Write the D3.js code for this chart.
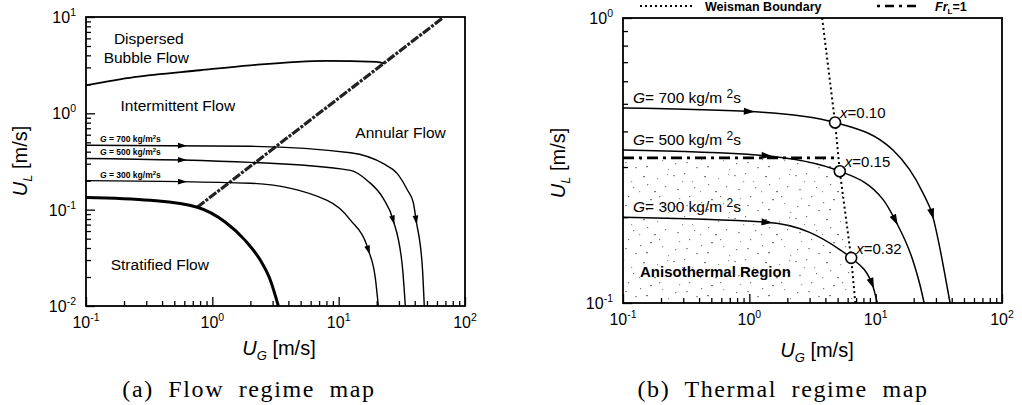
<!DOCTYPE html>
<html><head><meta charset="utf-8">
<script src="https://cdn.jsdelivr.net/npm/d3@7"></script>
<style>
body{margin:0;background:#fff;}
svg text{font-family:Arial,"Liberation Sans",sans-serif;fill:#000;}
</style></head>
<body><svg id="c" width="1022" height="405"></svg>
<script>
// ---------------- data ----------------
const xDecades = [0.1, 1, 10, 100];
const xDecadeExp = ["-1", "0", "1", "2"];
const leftYDecades = [0.01, 0.1, 1, 10];
const leftYExp = ["-2", "-1", "0", "1"];
const rightYDecades = [0.1, 1];
const rightYExp = ["-1", "0"];

// (a) flow regime map
const dispersedBubble = [[0.1,1.95],[0.24,2.37],[0.8,2.8],[2,3.15],[8,3.5],[20,3.42],[23,3.3]];
const annularBoundary = [[0.76,0.106],[66,9.7]];
const stratifiedBoundary = [[0.1,0.134],[0.323,0.125],[0.76,0.106],[1.27,0.074],[1.82,0.048],[2.4,0.0298],[2.88,0.0185],[3.33,0.01]];
const leftG700 = [[0.1,0.466],[2,0.455],[12.4,0.39],[22.6,0.30],[29,0.238],[35,0.16],[39,0.118],[41,0.078],[46,0.025],[47.6,0.01]];
const leftG500 = [[0.1,0.34],[2,0.31],[12.4,0.256],[16.9,0.2],[22.6,0.13],[27,0.078],[32,0.025],[33.7,0.01]];
const leftG300 = [[0.1,0.2],[2,0.188],[8.1,0.125],[12.4,0.078],[17.2,0.038],[19.5,0.0196],[20.6,0.01]];
const leftGNames = ["700", "500", "300"];
const leftArrowUG = [[0.58, 41], [0.58, 27], [0.58, 17.2]];
const regimeLabels = [
  {t:"Dispersed", x:0.314, y:5.2},
  {t:"Bubble Flow", x:0.30, y:3.3},
  {t:"Intermittent Flow", x:0.533, y:1.05},
  {t:"Annular Flow", x:30.9, y:0.55},
  {t:"Stratified Flow", x:0.384, y:0.0234}
];

// (b) thermal regime map
const rightG700 = [[0.1,0.483],[1.2,0.468],[4.77,0.43],[13.7,0.344],[23.7,0.243],[28,0.205],[32.4,0.154],[36,0.12],[38.8,0.1]];
const rightG500 = [[0.1,0.344],[1.2,0.33],[5.2,0.29],[11.5,0.23],[14.3,0.195],[19.7,0.141],[22.5,0.115],[24.2,0.1]];
const rightG300 = [[0.1,0.2],[1.38,0.192],[3,0.177],[5.2,0.154],[6.4,0.144],[9.35,0.117],[10.3,0.1]];
const rightGNames = ["700", "500", "300"];
const rightArrowUG = [[1.0, 28], [1.38, 14.3], [1.38, 9.35]];
const weisman = [[3.77,1],[4.77,0.43],[5.2,0.29],[6.4,0.144],[6.9,0.1]];
const frL1 = [[0.1,0.323],[4.9,0.323]];
const anisoRegion = [[0.1,0.323],[5.08,0.323],[5.2,0.29],[6.4,0.144],[6.9,0.1],[0.1,0.1]];
const qualityPoints = [
  {ug:4.77, ul:0.43, label:"0.10"},
  {ug:5.2, ul:0.29, label:"0.15"},
  {ug:6.4, ul:0.144, label:"0.32"}
];

// ---------------- drawing ----------------
const svg = d3.select("#c");
const defs = svg.append("defs");
// stipple pattern (texture only)
const pat = defs.append("pattern").attr("id","stip").attr("patternUnits","userSpaceOnUse")
  .attr("width",61).attr("height",43);
const specks = [[2,3],[13,1],[21,9],[33,4],[47,6],[55,14],[6,17],[18,24],[29,19],[40,27],[52,31],[4,34],[25,38],[37,12],[11,9],[44,19],[58,40],[30,30],[15,33],[49,24],[8,26],[36,37],[57,2],[23,15]];
specks.forEach((p,i)=>pat.append("rect").attr("x",p[0]).attr("y",p[1])
  .attr("width", i%3===0?2:1.2).attr("height",1.2).attr("fill", i%2? "#777":"#999"));

function makePanel(xr, yr, ydom){
  const x = d3.scaleLog().domain([0.1,100]).range(xr);
  const y = d3.scaleLog().domain(ydom).range(yr);
  return {x, y};
}
const L = makePanel([86,465],[306,17],[0.01,10]);
const R = makePanel([623,1002],[303,18],[0.1,1]);

function minorTicks(dom){
  const out=[];
  for(let d=dom[0]; d<dom[1]*0.999; d*=10){ for(let k=2;k<=9;k++) out.push(d*k); }
  return out;
}

function drawAxes(P, yDec, yExp, g){
  const [x0,x1]=P.x.range(), [y0,y1]=P.y.range();
  g.append("g").attr("transform",`translate(0,${y0})`)
    .call(d3.axisBottom(P.x).tickValues(minorTicks(P.x.domain())).tickSize(-5).tickFormat(""))
    .call(s=>s.select(".domain").remove());
  g.append("g").attr("transform",`translate(0,${y0})`)
    .call(d3.axisBottom(P.x).tickValues(xDecades).tickSize(-9).tickFormat(""))
    .call(s=>s.select(".domain").remove());
  g.append("g").attr("transform",`translate(${x0},0)`)
    .call(d3.axisLeft(P.y).tickValues(minorTicks(P.y.domain())).tickSize(-5).tickFormat(""))
    .call(s=>s.select(".domain").remove());
  g.append("g").attr("transform",`translate(${x0},0)`)
    .call(d3.axisLeft(P.y).tickValues(yDec).tickSize(-9).tickFormat(""))
    .call(s=>s.select(".domain").remove());
  g.selectAll(".tick line").attr("stroke","#000").attr("stroke-width",1.3);
  g.append("rect").attr("x",x0).attr("y",y1).attr("width",x1-x0).attr("height",y0-y1)
    .attr("fill","none").attr("stroke","#000").attr("stroke-width",1.8);
  xDecades.forEach((v,i)=>{
    const t=g.append("text").attr("x",P.x(v)).attr("y",y0+22).attr("text-anchor","middle").style("font-size","16px");
    t.append("tspan").text("10");
    t.append("tspan").attr("dy",-7).style("font-size","10.5px").text(xDecadeExp[i]);
  });
  yDec.forEach((v,i)=>{
    const t=g.append("text").attr("x",x0-10).attr("y",P.y(v)+6).attr("text-anchor","end").style("font-size","16px");
    t.append("tspan").text("10");
    t.append("tspan").attr("dy",-7).style("font-size","10.5px").text(yExp[i]);
  });
}

function axisTitles(g, cx, cyX, cxY, cy){
  const tx=g.append("text").attr("x",cx).attr("y",cyX).attr("text-anchor","middle").style("font-size","20px");
  tx.append("tspan").style("font-style","italic").text("U");
  tx.append("tspan").attr("dy",5).style("font-size","13px").style("font-style","italic").text("G");
  tx.append("tspan").attr("dy",-5).text(" [m/s]");
  const ty=g.append("text").attr("transform",`translate(${cxY},${cy}) rotate(-90)`).attr("text-anchor","middle").style("font-size","20px");
  ty.append("tspan").style("font-style","italic").text("U");
  ty.append("tspan").attr("dy",5).style("font-size","13px").style("font-style","italic").text("L");
  ty.append("tspan").attr("dy",-5).text(" [m/s]");
}

function lineGen(P, curve){
  return d3.line().x(d=>P.x(d[0])).y(d=>P.y(d[1])).curve(curve||d3.curveMonotoneX);
}

function addArrow(g, pathNode, px, size){
  const total = pathNode.getTotalLength();
  let lo=0, hi=total;
  for(let k=0;k<40;k++){ const mid=(lo+hi)/2; if(pathNode.getPointAtLength(mid).x<px) lo=mid; else hi=mid; }
  const l=(lo+hi)/2;
  const p=pathNode.getPointAtLength(l);
  const a=pathNode.getPointAtLength(Math.max(0,l-2)), b=pathNode.getPointAtLength(Math.min(total,l+2));
  const ang=Math.atan2(b.y-a.y,b.x-a.x)*180/Math.PI;
  const s=size||9;
  g.append("path").attr("d",`M${s/2},0 L${-s/2},${-s*0.32} L${-s/2},${s*0.32} Z`)
    .attr("transform",`translate(${p.x},${p.y}) rotate(${ang})`).attr("fill","#000");
}

function caption(g, cx, txt){
  g.append("text").attr("x",cx).attr("y",397).attr("text-anchor","middle")
    .style("font-family","'Liberation Serif','DejaVu Serif',serif").style("font-size","24px")
    .style("letter-spacing","1.6px").style("word-spacing","7px").text(txt);
}

// ===== Panel (a) =====
const gA = svg.append("g");
const clipA = defs.append("clipPath").attr("id","clipA");
clipA.append("rect").attr("x",86).attr("y",17).attr("width",379).attr("height",289);
const pA = gA.append("g").attr("clip-path","url(#clipA)");

pA.append("path").attr("d",lineGen(L)(dispersedBubble)).attr("fill","none").attr("stroke","#000").attr("stroke-width",1.8);
pA.append("path").attr("d",lineGen(L,d3.curveLinear)(annularBoundary)).attr("fill","none").attr("stroke","#222").attr("stroke-width",3.2).attr("stroke-dasharray","9,1.5,3,1.5");
pA.append("path").attr("d",lineGen(L)(stratifiedBoundary)).attr("fill","none").attr("stroke","#000").attr("stroke-width",3);
[leftG700,leftG500,leftG300].forEach((data,i)=>{
  const p=pA.append("path").attr("d",lineGen(L)(data)).attr("fill","none").attr("stroke","#000").attr("stroke-width",1.4);
  leftArrowUG[i].forEach(u=>addArrow(gA,p.node(),L.x(u),9));
  const t=gA.append("text").attr("x",100).attr("y",L.y(data[0][1])-3).style("font-size","8.5px").style("font-weight","bold");
  t.append("tspan").style("font-style","italic").text("G");
  t.append("tspan").text(" = "+leftGNames[i]+" kg/m");
  t.append("tspan").attr("dy",-3).style("font-size","6px").text("2");
  t.append("tspan").attr("dy",3).text("s");
});
regimeLabels.forEach(r=>{
  gA.append("text").attr("x",L.x(r.x)).attr("y",L.y(r.y)).attr("text-anchor","middle").style("font-size","15.5px").text(r.t);
});
drawAxes(L, leftYDecades, leftYExp, gA);
axisTitles(gA, 279, 355, 27, 161);
caption(gA, 249, "(a) Flow regime map");

// ===== Panel (b) =====
const gB = svg.append("g");
const clipB = defs.append("clipPath").attr("id","clipB");
clipB.append("rect").attr("x",623).attr("y",18).attr("width",379).attr("height",285);
const pB = gB.append("g").attr("clip-path","url(#clipB)");

pB.append("path").attr("d",lineGen(R,d3.curveLinear)(anisoRegion)+"Z").attr("fill","url(#stip)").attr("stroke","none");
pB.append("path").attr("d",lineGen(R,d3.curveLinear)(frL1)).attr("fill","none").attr("stroke","#000").attr("stroke-width",2.6).attr("stroke-dasharray","11,5,3,5");
pB.append("path").attr("d",lineGen(R,d3.curveLinear)(weisman)).attr("fill","none").attr("stroke","#000").attr("stroke-width",2).attr("stroke-dasharray","2,3");
[rightG700,rightG500,rightG300].forEach((data,i)=>{
  const p=pB.append("path").attr("d",lineGen(R)(data)).attr("fill","none").attr("stroke","#000").attr("stroke-width",1.5);
  rightArrowUG[i].forEach(u=>addArrow(gB,p.node(),R.x(u),11));
  const t=gB.append("text").attr("x",633).attr("y",R.y(data[0][1])-5).style("font-size","15.5px");
  t.append("tspan").style("font-style","italic").text("G");
  t.append("tspan").text("= "+rightGNames[i]+" kg/m ");
  t.append("tspan").attr("dy",-5).style("font-size","12px").text("2");
  t.append("tspan").attr("dy",5).text("s");
});
qualityPoints.forEach(q=>{
  gB.append("circle").attr("cx",R.x(q.ug)).attr("cy",R.y(q.ul)).attr("r",5.5)
    .attr("fill","#fff").attr("stroke","#000").attr("stroke-width",1.6);
  const t=gB.append("text").attr("x",R.x(q.ug)+5).attr("y",R.y(q.ul)-4).style("font-size","15px");
  t.append("tspan").style("font-style","italic").text("x");
  t.append("tspan").text("=" + q.label);
});
gB.append("text").attr("x",640).attr("y",277).style("font-size","15px").style("font-weight","bold").text("Anisothermal Region");
drawAxes(R, rightYDecades, rightYExp, gB);
axisTitles(gB, 817, 357, 565, 163);
// legend
gB.append("line").attr("x1",640).attr("x2",695).attr("y1",6).attr("y2",6).attr("stroke","#000").attr("stroke-width",2).attr("stroke-dasharray","2,3");
gB.append("text").attr("x",705).attr("y",11).style("font-size","12.5px").style("font-weight","bold").text("Weisman Boundary");
gB.append("line").attr("x1",877).attr("x2",916).attr("y1",6).attr("y2",6).attr("stroke","#000").attr("stroke-width",2.6).attr("stroke-dasharray","3,5,9,5");
const fr=gB.append("text").attr("x",935).attr("y",11).style("font-size","12.5px").style("font-weight","bold");
fr.append("tspan").style("font-style","italic").text("Fr");
fr.append("tspan").attr("dy",3).style("font-size","8px").text("L");
fr.append("tspan").attr("dy",-3).text("=1");
caption(gB, 783, "(b) Thermal regime map");
</script></body></html>
